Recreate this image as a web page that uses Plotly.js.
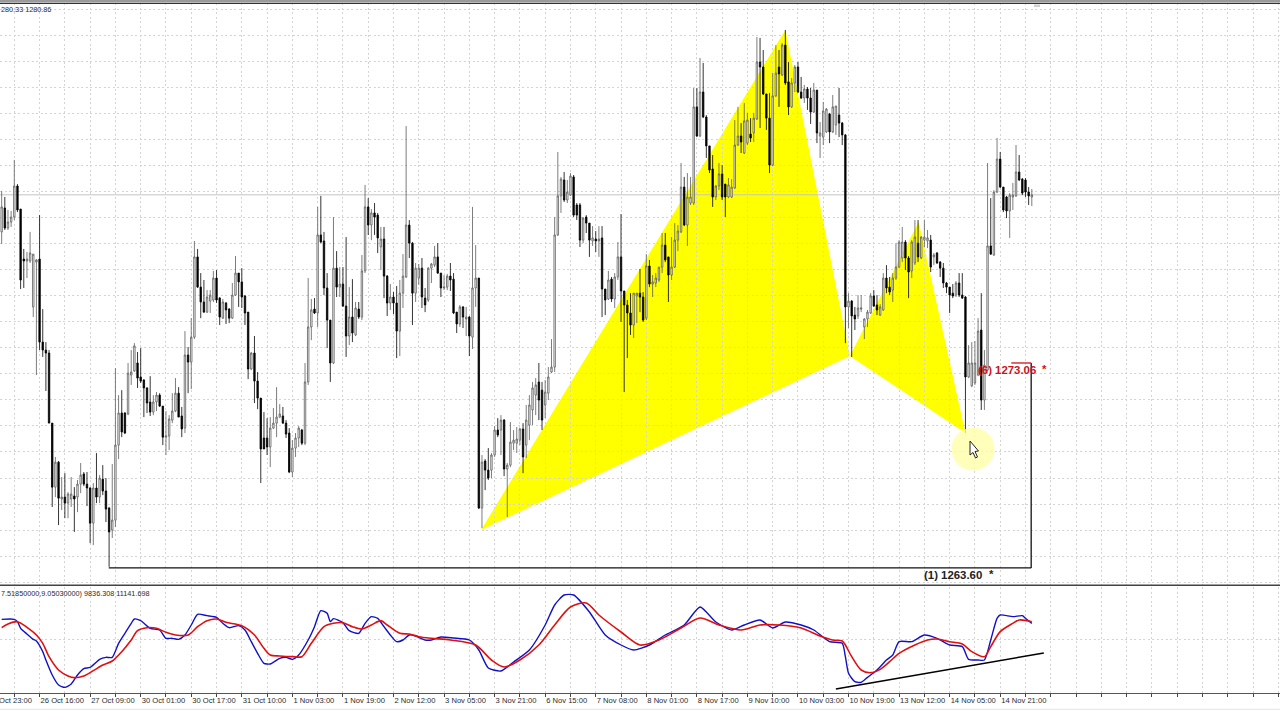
<!DOCTYPE html>
<html><head><meta charset="utf-8">
<script src="https://cdn.plot.ly/plotly-3.0.1.min.js"></script>
<style>html,body{margin:0;padding:0;background:#fff;overflow:hidden}#c{width:1280px;height:720px}</style>
</head><body><div id="c"></div>
<script>
// XAUUSD H1 candles: [open, high, low, close]
const barsLateOct = [
[1279.14,1281.04,1278.58,1280.30],[1280.25,1280.76,1279.23,1279.32],[1279.32,1280.16,1279.23,1279.60],[1279.60,1280.11,1279.37,1279.83],[1279.83,1282.48,1279.69,1281.27],[1281.27,1281.36,1280.06,1280.16],[1280.20,1280.20,1276.49,1276.91],[1277.88,1278.35,1276.54,1277.79],[1277.79,1278.21,1277.00,1277.88],[1277.79,1279.14,1277.70,1278.16],
[1275.66,1278.11,1275.19,1278.11],[1277.74,1277.88,1272.50,1277.84],[1277.88,1279.92,1273.66,1274.03],[1274.03,1275.56,1273.34,1273.66],[1273.66,1274.03,1271.76,1273.52],[1273.52,1273.66,1270.27,1270.27],[1270.27,1270.27,1266.38,1267.30],[1267.30,1268.70,1266.84,1268.46],[1268.46,1268.51,1265.54,1266.79],[1266.75,1267.77,1266.24,1266.84],
[1266.84,1267.95,1265.86,1266.56],[1266.56,1267.07,1265.86,1266.98],[1266.75,1267.77,1266.38,1266.98],[1266.89,1267.30,1265.22,1266.75],[1266.84,1267.63,1266.14,1267.44],[1267.44,1268.42,1267.02,1267.86],[1267.91,1268.00,1267.35,1267.44],[1267.44,1268.00,1266.42,1267.26],[1267.26,1267.30,1264.70,1265.63],[1265.63,1267.49,1264.61,1267.26],
[1267.26,1268.88,1266.56,1266.84],[1266.84,1267.86,1266.56,1267.72],[1267.67,1268.32,1266.93,1267.12],[1267.12,1267.72,1265.68,1266.28],[1266.33,1266.38,1263.60,1265.22],[1265.31,1268.37,1264.94,1265.77],[1265.77,1272.82,1265.45,1269.25],[1269.25,1271.57,1268.60,1270.74],[1270.74,1271.80,1269.62,1269.86],[1270.74,1270.78,1269.76,1269.81],
[1270.69,1273.06,1270.64,1272.59],[1272.50,1273.66,1272.04,1272.64],[1272.69,1273.98,1272.64,1273.85],[1273.06,1273.57,1271.90,1272.36],[1272.41,1273.75,1272.13,1272.22],[1272.27,1272.31,1270.55,1271.90],[1271.90,1271.94,1270.74,1271.20],[1271.25,1272.45,1270.60,1270.78],[1270.78,1271.57,1270.64,1271.25],[1271.25,1271.71,1270.83,1271.57],
[1271.57,1271.66,1271.02,1271.06],[1271.06,1271.06,1269.25,1269.62],[1269.62,1270.83,1268.79,1269.67],[1269.67,1270.64,1269.02,1270.46],[1270.41,1271.66,1270.27,1270.83]];
const barsOctNov = [
[1270.83,1272.36,1270.78,1271.66],[1271.66,1271.94,1270.55,1270.55],[1270.60,1271.02,1269.62,1270.00],[1270.04,1274.54,1269.81,1273.43],[1273.43,1273.80,1271.66,1273.10],[1273.10,1275.14,1271.85,1274.26],[1274.26,1278.72,1274.17,1277.98],[1277.98,1278.35,1276.54,1276.58],[1276.58,1277.23,1275.14,1275.89],[1275.89,1276.91,1275.38,1275.42],
[1275.42,1276.44,1275.38,1276.12],[1275.93,1276.44,1275.38,1276.21],[1275.98,1277.33,1275.89,1277.00],[1277.00,1277.37,1275.84,1275.98],[1276.07,1276.12,1274.82,1275.19],[1275.14,1276.03,1275.10,1275.89],[1275.84,1275.89,1274.87,1275.52],[1275.56,1275.61,1274.91,1275.14],[1275.14,1276.77,1275.10,1276.21],[1276.21,1278.02,1276.17,1277.23],
[1277.23,1277.23,1275.66,1276.82],[1276.82,1277.46,1275.61,1276.12],[1276.17,1276.21,1274.82,1275.38],[1275.42,1275.42,1272.31,1272.78],[1272.78,1273.57,1272.73,1273.52],[1273.52,1274.31,1271.20,1272.22],[1272.22,1272.64,1270.92,1271.43],[1271.43,1271.43,1267.49,1269.07],[1269.58,1270.78,1269.07,1269.07],[1269.58,1270.50,1268.79,1269.16],
[1269.16,1270.55,1268.23,1270.04],[1270.04,1270.97,1270.00,1270.27],[1270.27,1271.94,1269.62,1270.55],[1270.55,1271.15,1270.50,1270.69],[1270.60,1271.02,1270.23,1270.27],[1270.27,1270.41,1269.58,1269.76],[1269.81,1270.04,1267.95,1268.00],[1268.00,1269.48,1267.77,1269.11],[1269.11,1269.81,1268.70,1269.58],[1269.58,1270.13,1269.16,1270.04],
[1269.95,1270.00,1269.25,1269.34],[1269.34,1273.06,1269.25,1272.18],[1272.18,1277.00,1272.04,1274.73],[1274.73,1276.03,1274.12,1275.52],[1275.56,1276.07,1275.33,1275.38],[1275.38,1280.30,1274.73,1279.00],[1279.00,1280.81,1278.62,1278.67],[1278.72,1279.14,1276.21,1276.54],[1276.54,1277.23,1273.75,1275.05],[1275.05,1275.05,1272.18,1273.06],
[1273.06,1279.83,1273.01,1277.46],[1277.46,1278.25,1276.12,1276.58],[1276.58,1277.51,1276.12,1276.72],[1276.72,1277.51,1275.66,1275.70],[1275.70,1278.90,1273.34,1274.31],[1274.31,1276.58,1273.89,1275.19]];
const barsEarlyNov = [
[1275.19,1276.95,1274.03,1274.45],[1274.36,1275.89,1274.31,1275.61],[1275.56,1275.89,1275.10,1275.19],[1275.19,1278.07,1275.05,1277.33],[1277.33,1281.32,1277.23,1280.30],[1280.30,1280.71,1279.00,1279.46],[1279.46,1280.20,1278.76,1280.02],[1280.02,1280.48,1279.00,1279.83],[1279.92,1280.02,1278.16,1278.86],[1278.44,1279.37,1277.37,1278.81],
[1278.81,1279.37,1276.07,1277.09],[1277.09,1277.14,1275.24,1275.84],[1275.84,1276.72,1275.52,1276.12],[1276.12,1276.35,1275.33,1275.84],[1275.84,1276.63,1273.29,1274.54],[1274.54,1276.91,1273.38,1276.30],[1276.30,1278.11,1275.61,1277.09],[1277.05,1284.05,1277.00,1279.46],[1279.46,1279.69,1277.93,1278.62],[1278.62,1278.67,1274.82,1276.30],
[1276.30,1277.70,1275.89,1277.46],[1277.00,1277.65,1276.68,1277.46],[1277.46,1277.93,1275.61,1276.12],[1276.07,1276.54,1275.42,1275.75],[1275.98,1277.51,1275.89,1277.46],[1277.46,1277.70,1276.77,1277.65],[1277.60,1278.49,1277.51,1277.98],[1277.98,1278.62,1277.19,1277.23],[1277.23,1277.23,1276.12,1276.54],[1276.54,1277.14,1276.44,1276.58],
[1276.58,1277.19,1276.44,1277.09],[1277.09,1277.70,1276.40,1276.91],[1276.95,1277.23,1275.33,1275.38],[1275.42,1275.42,1274.45,1274.87],[1274.87,1275.75,1274.73,1275.66],[1275.66,1275.70,1274.68,1275.19],[1275.10,1275.66,1274.31,1275.19],[1275.19,1275.24,1273.38,1274.31],[1274.26,1280.30,1273.71,1276.54],[1276.54,1278.53,1275.66,1277.00],
[1277.00,1277.00,1266.28,1266.33],[1266.33,1268.79,1265.40,1268.46],[1268.51,1268.60,1267.16,1268.09],[1268.09,1269.11,1267.63,1267.72],[1268.09,1268.88,1267.72,1268.79],[1268.79,1270.13,1268.70,1269.95],[1269.95,1270.50,1269.62,1269.72],[1269.95,1270.64,1268.79,1270.41],[1270.41,1270.46,1267.81,1268.14],[1268.14,1268.42,1265.91,1268.32],
[1268.32,1270.32,1268.23,1269.39],[1269.34,1269.95,1269.02,1269.48],[1269.34,1270.09,1268.88,1269.53],[1269.48,1270.04,1269.25,1270.00],[1270.00,1270.27,1267.95,1268.70]];
const barsNovRally = [
[1269.25,1271.11,1268.65,1270.41],[1270.18,1271.57,1269.48,1271.11],[1270.88,1272.18,1270.18,1271.90],[1271.57,1272.36,1270.64,1272.04],[1272.18,1273.06,1270.41,1271.34],[1271.80,1272.18,1269.95,1270.41],[1271.11,1272.27,1270.50,1271.71],[1271.66,1272.87,1271.34,1272.41],[1272.64,1274.17,1272.59,1272.87],[1272.87,1279.83,1272.64,1279.00],
[1279.00,1282.85,1278.95,1280.81],[1280.81,1281.69,1280.02,1281.59],[1281.55,1281.92,1280.53,1280.62],[1280.62,1281.55,1280.48,1280.99],[1280.85,1281.87,1280.81,1281.73],[1281.69,1281.78,1279.83,1279.92],[1280.39,1280.48,1279.69,1279.92],[1280.39,1280.48,1278.44,1278.76],[1278.76,1279.83,1278.62,1279.78],[1279.83,1279.92,1279.09,1279.55],
[1279.55,1279.55,1277.98,1278.76],[1278.72,1279.41,1278.49,1278.86],[1278.81,1279.18,1278.21,1278.72],[1278.72,1279.41,1277.98,1278.81],[1278.86,1279.41,1275.19,1276.49],[1276.49,1276.49,1275.28,1275.98],[1276.03,1277.33,1275.98,1276.91],[1276.95,1277.05,1275.89,1276.03],[1276.03,1277.23,1275.61,1277.05],[1277.05,1278.67,1276.91,1277.98],
[1277.98,1279.97,1274.96,1276.40],[1276.40,1276.40,1271.71,1275.75],[1275.75,1275.98,1273.29,1275.38],[1275.38,1276.30,1274.36,1274.82],[1274.82,1276.30,1274.22,1276.30],[1276.17,1276.30,1274.91,1276.30],[1276.30,1277.42,1275.42,1276.12],[1276.12,1276.35,1274.96,1275.05],[1275.14,1278.11,1275.05,1277.56],[1277.56,1277.84,1276.58,1276.72],
[1276.72,1277.14,1276.12,1276.82],[1276.77,1277.23,1276.58,1277.00],[1276.91,1277.51,1276.82,1277.51],[1277.51,1279.09,1277.23,1278.53],[1278.53,1279.09,1277.74,1277.84],[1277.98,1277.98,1275.89,1277.14],[1277.14,1278.90,1276.91,1277.51],[1277.51,1279.55,1277.46,1278.76],[1278.76,1279.46,1278.25,1279.18],[1279.14,1282.34,1279.09,1281.22],
[1281.22,1281.69,1279.41,1279.46],[1279.46,1281.87,1278.49,1280.76],[1280.48,1281.69,1280.39,1280.76],[1280.48,1285.82,1280.39,1284.94]];
const barsNovPeak = [
[1284.94,1285.82,1283.54,1283.59],[1283.59,1287.21,1283.54,1285.63],[1285.63,1286.98,1284.42,1284.47],[1284.47,1284.56,1282.57,1283.13],[1283.13,1283.13,1281.87,1282.01],[1282.06,1282.71,1280.30,1280.76],[1280.76,1281.32,1280.62,1281.27],[1281.27,1282.34,1281.08,1281.83],[1281.83,1282.24,1280.62,1280.76],[1281.36,1281.36,1279.83,1280.76],
[1280.76,1281.64,1280.71,1281.32],[1280.76,1281.59,1280.71,1281.22],[1281.18,1284.33,1281.13,1283.17],[1283.17,1284.94,1283.13,1283.59],[1283.59,1284.19,1282.80,1283.31],[1282.80,1285.12,1282.75,1284.29],[1283.26,1284.66,1283.17,1284.33],[1283.68,1284.42,1283.31,1283.50],[1283.73,1284.66,1283.31,1284.42],[1284.38,1288.18,1284.33,1287.02],
[1287.02,1288.14,1283.96,1286.79],[1286.79,1287.58,1285.49,1285.54],[1285.54,1285.54,1283.87,1284.42],[1284.42,1285.58,1281.87,1282.24],[1282.24,1286.51,1282.20,1285.45],[1285.45,1287.81,1285.40,1286.51],[1286.79,1287.58,1284.94,1286.47],[1286.42,1287.90,1286.37,1287.81],[1287.81,1288.51,1285.96,1286.05],[1286.10,1287.02,1284.56,1284.94],
[1284.94,1286.28,1284.89,1286.05],[1286.05,1286.88,1285.63,1286.79],[1286.79,1287.02,1285.58,1285.63],[1285.63,1286.33,1285.31,1285.35],[1285.35,1285.96,1285.12,1285.77],[1285.77,1285.86,1284.80,1285.35],[1285.35,1285.82,1284.15,1284.70],[1284.70,1286.05,1284.66,1285.72],[1285.72,1285.72,1283.26,1283.73],[1283.59,1284.24,1282.57,1283.73],
[1283.54,1285.17,1283.17,1284.75],[1283.78,1284.89,1283.73,1284.84],[1284.61,1284.66,1283.26,1283.78],[1283.78,1285.49,1283.73,1284.94],[1284.10,1284.98,1283.64,1284.98],[1284.56,1285.82,1283.54,1284.19],[1284.19,1284.24,1283.17,1283.64],[1283.64,1283.68,1273.98,1275.66]];
const barsMidNov = [
[1275.66,1276.30,1274.68,1275.93],[1275.93,1275.98,1273.34,1275.24],[1275.28,1275.66,1274.59,1275.10],[1275.24,1276.21,1275.10,1275.61],[1275.56,1276.21,1275.42,1275.61],[1274.73,1275.14,1274.17,1275.10],[1275.10,1275.52,1274.73,1275.42],[1275.38,1276.30,1275.33,1276.17],[1276.17,1276.44,1275.66,1275.70],[1275.75,1276.21,1275.28,1275.52],
[1275.28,1275.79,1275.24,1275.66],[1275.52,1277.23,1275.47,1277.00],[1277.00,1277.60,1276.30,1276.54],[1276.58,1277.05,1276.21,1276.35],[1276.44,1277.23,1275.89,1277.00],[1277.00,1278.62,1276.91,1277.51],[1277.51,1278.76,1277.46,1278.67],[1277.93,1279.37,1277.74,1278.67],[1278.67,1278.76,1277.37,1277.93],[1277.93,1278.02,1276.07,1277.28],
[1277.33,1278.76,1277.00,1278.67],[1277.70,1279.69,1277.60,1278.90],[1278.62,1279.69,1277.74,1277.98],[1277.93,1278.95,1277.88,1278.90],[1278.76,1279.69,1278.44,1278.90],[1278.72,1279.23,1278.39,1278.86],[1278.76,1279.00,1277.28,1277.51],[1277.98,1278.16,1277.60,1278.07],[1278.16,1278.21,1277.65,1277.70],[1277.74,1277.79,1277.05,1277.46],
[1277.46,1277.70,1276.54,1276.77],[1276.77,1276.82,1276.30,1276.58],[1276.58,1276.58,1275.38,1276.21],[1276.30,1276.72,1276.07,1276.17],[1276.21,1276.86,1276.12,1276.77],[1276.77,1277.23,1276.12,1276.21],[1276.21,1277.23,1276.03,1276.07],[1276.12,1276.17,1269.81,1272.41],[1272.41,1273.89,1272.36,1273.06],[1272.00,1274.03,1271.94,1273.06],
[1272.13,1274.08,1272.04,1273.06],[1272.50,1275.14,1272.45,1274.54],[1274.59,1276.30,1270.88,1271.34],[1271.34,1273.66,1270.88,1272.96],[1272.73,1282.34,1272.69,1278.49],[1278.49,1280.71,1278.07,1278.11],[1278.07,1281.08,1278.02,1280.99],[1280.99,1283.50,1280.94,1282.52],[1282.52,1282.85,1281.18,1281.22],[1281.22,1281.22,1280.06,1280.16],
[1280.76,1280.81,1279.78,1280.11],[1280.11,1280.94,1278.86,1280.85],[1280.76,1281.41,1280.16,1280.85],[1280.81,1283.17,1280.76,1281.92],[1281.92,1282.71,1281.50,1281.55],[1281.59,1281.64,1280.85,1280.94],[1281.55,1281.64,1280.76,1280.99],[1280.99,1281.22,1280.39,1280.81],[1280.76,1281.13,1280.34,1280.86]];

// Oscillator (blue main / red signal), sampled at bar numbers
const blueBars = [0,4,5,6,8,10,11,13,14,16,18,20,22,24,26,28,31,33,35,37,39,41,42,44,47,50,52,54,56,58,60,62,65,68,70,72,75,77,79,81,83,85,88,90,92,94,97,99,101,103,104,105,108,110,113,115,117,119,121,123,125,127,129,131,134,136,139,143,148,151,154,158,162,167,172,175,178,181,186,191,196,200,205,210,216,221,226,231,235,240,244,248,253,257,262,266,267,268,270,272,274,277,280,282,284,288,292,296,300,304,306,309,311,313,315,316,320,323,324,326];
const blueValues = [11800,11800,10400,6400,3000,-200,-1200,-7600,-12600,-21600,-27600,-29000,-27000,-21600,-17800,-17000,-12200,-11000,-11000,-2600,3400,9400,12000,11000,6400,5400,400,400,-200,2400,8400,14800,14000,13000,9400,6800,8000,5400,-1600,-8600,-14600,-15000,-11600,-11000,-12200,-9600,-600,7400,17000,15400,10400,12200,9800,5000,3400,9400,13400,12400,7400,2400,-1600,-600,2400,1800,-600,-600,1200,600,-600,-6600,-17400,-19200,-13800,-6600,8400,20400,26400,26400,16200,2400,-3600,-6600,-3600,2400,8400,19200,10200,5400,8400,11400,6600,10200,8400,5400,-1600,-2600,-10600,-20600,-25600,-26000,-23000,-18600,-12600,-9600,-1600,-1600,2400,400,-3600,-4600,-12200,-12600,-12600,-600,12400,14400,13400,14000,12400,9400];
const redBars = [0,2,5,8,11,13,15,18,21,23,26,29,32,35,38,41,43,46,49,52,55,59,62,65,68,71,76,80,83,85,88,92,95,98,102,105,108,111,114,117,120,122,126,129,132,136,142,150,155,159,164,170,175,180,185,189,196,202,208,215,221,227,234,240,246,253,259,263,266,269,272,275,278,281,284,289,293,296,300,304,307,311,313,316,320,322,326];
const redValues = [6800,9000,10400,7000,2400,-2600,-10600,-18600,-22200,-23200,-22200,-19000,-15600,-13200,-7600,-600,5000,6800,6400,4000,2400,2400,7400,11000,12000,10000,8000,2400,-5600,-9600,-10200,-10600,-10600,-2600,7400,9400,9800,7400,6000,8400,11000,8400,3400,3000,1400,400,-600,-3600,-12600,-16800,-12600,-3600,8400,19200,21600,14400,4200,-3600,-600,6600,12600,8400,5400,8400,8400,6600,1800,-600,-1200,-10600,-18600,-20200,-18200,-13600,-8600,-3600,-600,0,-1600,-3000,-7600,-10600,-4600,4400,9400,11400,10400];
const trendBars = [264,329.8];
const trendValues = [-30000,-8400];

// Harmonic pattern pivots (X, A, B, C, D, back to B)
const pivotBars = [151.7,248,268.4,290.2,305,268.4];
const pivotPrices = [1265.31,1288.51,1273.38,1279.60,1269.81,1273.38];

const bidPrice = 1280.86;
const level1 = 1263.55, level1Label = "(1) 1263.60";
const level6 = 1273.06, level6Label = "(6) 1273.06";
const level1Bars = [33.9,325.8], level6Bars = [319.5,325.8];

const timeLabels = ["26 Oct 16:00","27 Oct 09:00","30 Oct 01:00","30 Oct 17:00","31 Oct 10:00","1 Nov 03:00","1 Nov 19:00","2 Nov 12:00","3 Nov 05:00","3 Nov 21:00","6 Nov 15:00","7 Nov 08:00","8 Nov 01:00","8 Nov 17:00","9 Nov 10:00","10 Nov 03:00","10 Nov 19:00","13 Nov 12:00","14 Nov 05:00","14 Nov 21:00"];
const headerText = "280.33 1280.86";
const oscText = "7.51850000,9.05030000) 9836.308 11141.698";

const rows = barsLateOct.concat(barsOctNov, barsEarlyNov, barsNovRally, barsNovPeak, barsMidNov);
const idx = rows.map((_,i)=>i);

// x grid every 8 bars, label every 16
const tickvals=[], ticktext=[];
for(let b=4,k=0;b<=404;b+=8,k++){ tickvals.push(b); const n=(b-12)/16; ticktext.push(Number.isInteger(n)&&n>=0&&n<timeLabels.length?timeLabels[n]:''); }

const W=1280,H=720;
const px=x=>x/W, py=y=>1-y/H;
const smallFont={family:'"Liberation Sans",Arial,sans-serif',size:7.25,color:'#2a2a2a'};
const tickFont={family:'"Liberation Sans",Arial,sans-serif',size:7.6,color:'#2a2a2a'};
const boldFont=c=>({family:'"Liberation Sans",Arial,sans-serif',size:11.4,color:c,weight:700});

const pivotPath = 'M'+pivotBars.map((b,i)=>b+','+pivotPrices[i]).join('L')+'Z';
const cursorPts=[[970,441],[970,455],[973,452.5],[975.5,458],[977.5,457],[975,451.5],[978.5,451]];
const cursorPath='M'+cursorPts.map(p=>px(p[0])+','+py(p[1])).join('L')+'Z';

const hline=(y,c,w)=>({type:'line',xref:'paper',yref:'paper',x0:0,x1:1,y0:py(y),y1:py(y),line:{color:c,width:w},layer:'above'});

const shapes=[
 {type:'path',xref:'x',yref:'y',path:pivotPath,fillcolor:'#ffff00',line:{color:'#ffff00',width:0},layer:'below'},
 {type:'line',xref:'x',yref:'y',x0:-1,x1:405,y0:bidPrice,y1:bidPrice,line:{color:'#c4c4c4',width:1},layer:'below'},
 {type:'line',xref:'x',yref:'y',x0:level1Bars[0],x1:level1Bars[1],y0:level1,y1:level1,line:{color:'#111',width:1.3},layer:'above'},
 {type:'line',xref:'x',yref:'y',x0:level1Bars[1],x1:level1Bars[1],y0:level1,y1:level6,line:{color:'#111',width:1.3},layer:'above'},
 {type:'line',xref:'x',yref:'y',x0:level6Bars[0],x1:level6Bars[1],y0:level6,y1:level6,line:{color:'#d01020',width:1.3},layer:'above'},
 {type:'circle',xref:'paper',yref:'paper',x0:px(951.5),x1:px(994.5),y0:py(470.5),y1:py(427.5),fillcolor:'#ffffa8',opacity:0.8,line:{width:0},layer:'above'},
 {type:'path',xref:'paper',yref:'paper',path:cursorPath,fillcolor:'#ffffff',line:{color:'#222',width:1},layer:'above'},
 {type:'rect',xref:'paper',yref:'paper',x0:0,x1:1,y0:py(2.2),y1:py(0),fillcolor:'#9a9a9a',line:{width:0},layer:'above'},
 hline(3.4,'#333',1.3),
 hline(585.3,'#444',1.6),
 hline(709.3,'#e4e4e4',1),
 {type:'rect',xref:'paper',yref:'paper',x0:px(1034),x1:px(1040),y0:py(7),y1:py(4.5),fillcolor:'#cfcfcf',line:{width:0},layer:'above'}
];

const annotations=[
 {xref:'paper',yref:'paper',x:0,y:py(10),xanchor:'left',yanchor:'middle',text:headerText,showarrow:false,font:smallFont,xshift:-1},
 {xref:'paper',yref:'paper',x:0,y:py(593.5),xanchor:'left',yanchor:'middle',text:oscText,showarrow:false,font:smallFont,xshift:-1},
 {xref:'paper',yref:'paper',x:0,y:py(700),xanchor:'left',yanchor:'middle',text:'Oct 23:00',showarrow:false,font:tickFont,xshift:-3},
 {xref:'paper',yref:'paper',x:px(924),y:py(575),xanchor:'left',yanchor:'middle',text:level1Label,showarrow:false,font:boldFont('#222'),xshift:-2},
 {xref:'paper',yref:'paper',x:px(991),y:py(574),xanchor:'center',yanchor:'middle',text:'*',showarrow:false,font:boldFont('#222')},
 {xref:'paper',yref:'paper',x:px(978),y:py(370),xanchor:'left',yanchor:'middle',text:level6Label,showarrow:false,font:boldFont('#d01020'),xshift:-2},
 {xref:'paper',yref:'paper',x:px(1044),y:py(369),xanchor:'center',yanchor:'middle',text:'*',showarrow:false,font:boldFont('#d01020')}
];

const traces=[
 {type:'candlestick',x:idx,open:rows.map(r=>r[0]),high:rows.map(r=>r[1]),low:rows.map(r=>r[2]),close:rows.map(r=>r[3]),
  xaxis:'x',yaxis:'y',whiskerwidth:0,
  increasing:{line:{color:'#5c5c5c',width:0.8},fillcolor:'#ffffff'},
  decreasing:{line:{color:'#000',width:0.8},fillcolor:'#000'},hoverinfo:'skip',showlegend:false},
 {type:'scatter',mode:'lines',x:blueBars,y:blueValues,xaxis:'x',yaxis:'y2',line:{color:'#1010c8',width:1.4,shape:'spline',smoothing:0.6},hoverinfo:'skip',showlegend:false},
 {type:'scatter',mode:'lines',x:redBars,y:redValues,xaxis:'x',yaxis:'y2',line:{color:'#e01010',width:1.6,shape:'spline',smoothing:0.8},hoverinfo:'skip',showlegend:false},
 {type:'scatter',mode:'lines',x:trendBars,y:trendValues,xaxis:'x',yaxis:'y2',line:{color:'#000',width:1.5},hoverinfo:'skip',showlegend:false}
];

const gridStyle={gridcolor:'#d4d4d4',griddash:'2px,2.5px',gridwidth:1};
const layout={
 width:W,height:H,margin:{l:0,r:0,t:0,b:0,pad:0},paper_bgcolor:'#fff',plot_bgcolor:'#fff',showlegend:false,hovermode:false,boxgap:0.35,
 xaxis:Object.assign({type:'linear',anchor:'y2',range:[-0.525,404.54],tickmode:'array',tickvals,ticktext,ticks:'outside',ticklen:3,tickcolor:'#444',
   ticklabelposition:'outside right',ticklabelshift:-2.5,tickfont:tickFont,showline:true,linecolor:'#555',linewidth:1,zeroline:false,tickangle:0,automargin:false,
   rangeslider:{visible:false},showgrid:true},gridStyle),
 yaxis:Object.assign({domain:[1-585/H,1-3/H],range:[1262.76,1289.76],anchor:'x',tickmode:'linear',tick0:1289.48,dtick:1.2087,showticklabels:false,ticks:'',zeroline:false,showline:false,showgrid:true},gridStyle),
 yaxis2:Object.assign({domain:[1-692.6/H,1-587/H],range:[-32160,31200],anchor:'x',tickmode:'array',tickvals:[0],showticklabels:false,ticks:'',zeroline:false,showline:false,showgrid:true},gridStyle),
 shapes,annotations
};
Plotly.newPlot('c',traces,layout,{staticPlot:true,displayModeBar:false,responsive:false});
</script></body></html>
